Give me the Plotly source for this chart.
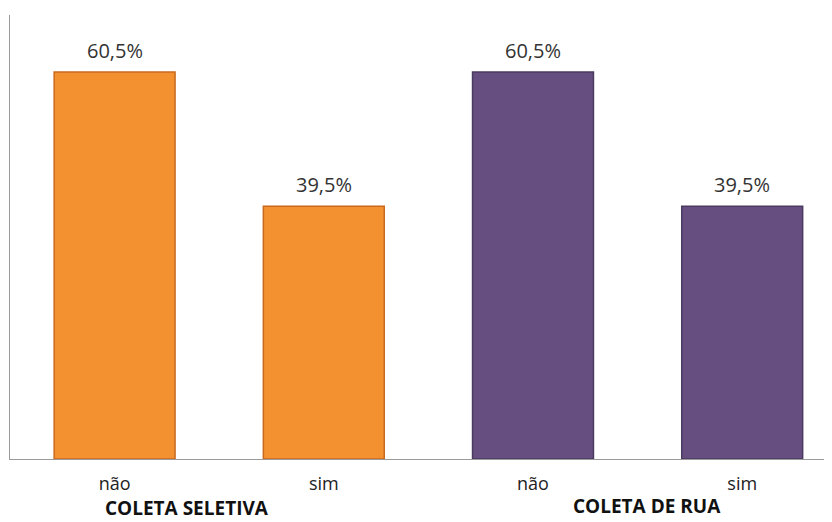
import plotly.graph_objects as go

categories = ["não", "sim", "não", "sim"]
values = [60.5, 39.5, 60.5, 39.5]
value_labels = ["60,5%", "39,5%", "60,5%", "39,5%"]
groups = ["COLETA SELETIVA", "COLETA DE RUA"]

fill_colors = ["#F39130", "#F39130", "#664F80", "#664F80"]
line_colors = ["#C9691F", "#C9691F", "#4B3A60", "#4B3A60"]

xpos = list(range(len(categories)))

fig = go.Figure()
fig.add_trace(go.Bar(
    x=xpos, y=values, width=0.578,
    marker=dict(color=fill_colors, line=dict(color=line_colors, width=1.5)),
    hoverinfo="skip",
))

# page body has an 8px margin: figure placed at (8, 8)
OFF = 8
W, H = 832 - OFF, 522 - OFF
L, T, R = 10 - OFF, 15 - OFF, 0
B = H - (459 - OFF)
plot_w = W - L - R
plot_h = H - T - B
step = 209.2

annotations = []
for xv, yv, lab in zip(xpos, values, value_labels):
    annotations.append(dict(
        x=xv, y=yv, xref="x", yref="y", text=lab, showarrow=False,
        xanchor="center", yanchor="bottom", yshift=6,
        font=dict(family="Open Sans", size=20, color="#333333"),
    ))

def py(ypix):
    return (459 - ypix) / plot_h

def px(xpix):
    return (xpix - 10) / plot_w

annotations += [
    dict(text="<b>" + groups[0] + "</b>", xref="paper", yref="paper",
         x=px(187), y=py(508), xanchor="center", yanchor="middle",
         showarrow=False, font=dict(family="Open Sans", size=19, color="#111111")),
    dict(text="<b>" + groups[1] + "</b>", xref="paper", yref="paper",
         x=px(647), y=py(505.5), xanchor="center", yanchor="middle",
         showarrow=False, font=dict(family="Open Sans", size=19, color="#111111")),
]

fig.update_layout(
    width=W, height=H,
    margin=dict(l=L, r=R, t=T, b=B),
    paper_bgcolor="white", plot_bgcolor="white",
    showlegend=False,
    xaxis=dict(
        range=[-0.5, -0.5 + plot_w / step],
        tickmode="array", tickvals=xpos, ticktext=categories,
        showline=True, linecolor="#9A9A9A", linewidth=1.3,
        ticks="", showgrid=False, zeroline=False,
        tickfont=dict(family="Open Sans", size=18, color="#222222"),
        ticklabelstandoff=8,
    ),
    yaxis=dict(
        range=[0, 69.4],
        showline=True, linecolor="#9A9A9A", linewidth=1.3,
        showticklabels=False, ticks="", showgrid=False, zeroline=False,
    ),
    annotations=annotations,
)

fig.write_html("out.html")
